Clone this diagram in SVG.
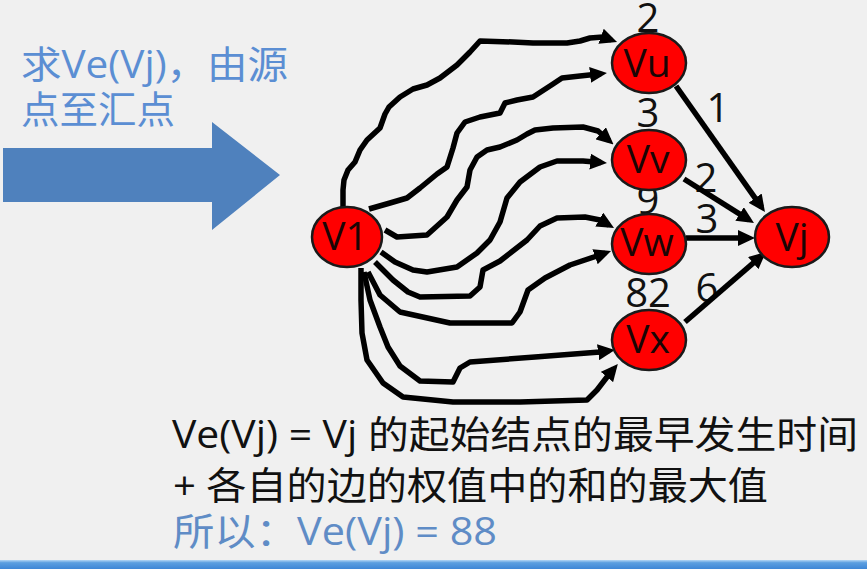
<svg xmlns="http://www.w3.org/2000/svg" width="867" height="569" viewBox="0 0 867 569">
  <style>
    .title { font-family: "Open Sans", "Noto Sans CJK SC", sans-serif; font-size: 38px; fill: #5b8ed3; }
    .body { font-family: "Open Sans", "Noto Sans CJK SC", sans-serif; font-size: 38px; fill: #111; }
    .result { font-family: "Open Sans", "Noto Sans CJK SC", sans-serif; font-size: 38px; fill: #5f8cc6; }
    .weight { font-family: "Open Sans", sans-serif; font-size: 40px; fill: #111; text-anchor: middle; }
    .node ellipse { fill: #ff0000; stroke: #1a1a1a; stroke-width: 2.5; }
    .node text { font-family: "Open Sans", sans-serif; font-size: 39px; fill: #1a0505; text-anchor: middle; }
    .edge { fill: none; stroke: #000; stroke-width: 5.5; stroke-linejoin: round; stroke-linecap: butt; marker-end: url(#head); }
  </style>
  <defs>
    <marker id="head" markerUnits="userSpaceOnUse" markerWidth="17" markerHeight="16" refX="11" refY="8" orient="auto">
      <path d="M0,0 L17,8 L0,16 z" fill="#000"/>
    </marker>
    <linearGradient id="bar" x1="0" y1="0" x2="0" y2="1">
      <stop offset="0" stop-color="#b4d6f4"/>
      <stop offset="0.3" stop-color="#5c9fe0"/>
      <stop offset="1" stop-color="#3e86d6"/>
    </linearGradient>
  </defs>

  <rect width="867" height="569" fill="#f0f0f0"/>

  <!-- heading and direction arrow -->
  <g id="heading">
    <text class="title" x="21" y="78" textLength="267" lengthAdjust="spacingAndGlyphs">求Ve(Vj)，由源</text>
    <text class="title" x="21" y="123" textLength="154" lengthAdjust="spacingAndGlyphs">点至汇点</text>
  </g>
  <polygon id="direction-arrow" points="3,148 212,148 212,122 280,175 212,230 212,202 3,202" fill="#4f81bd"/>

  <!-- edge weights -->
  <g id="weights">
    <text class="weight" x="648" y="32">2</text>
    <text class="weight" x="648" y="127">3</text>
    <text class="weight" x="648" y="214">9</text>
    <text class="weight" x="648" y="307">82</text>
    <text class="weight" x="718" y="122">1</text>
    <text class="weight" x="706" y="192">2</text>
    <text class="weight" x="707" y="233">3</text>
    <text class="weight" x="707" y="302">6</text>
  </g>

  <!-- connectors -->
  <g id="connectors">
    <path class="edge" d="M343,207 L343,190 L344,180 L348,170 L355,162 L360,150 L367,140 L380,128 L385,114 L389,107 L400,97 L413,89 L427,85 L440,78 L457,65 L470,52 L480,41 L513,42 L533,43 L567,43 L580,41 L590,38 L603,37 L611.4,40"/>
    <path class="edge" d="M369,209 L390,203 L407,198 L420,188 L437,174 L447,167 L453,148 L457,133 L465,122 L480,117 L500,113 L505,103 L517,100 L533,97 L553,84 L562,78 L580,76 L601,73.7"/>
    <path class="edge" d="M385,230 L397,237 L427,235 L447,217 L457,200 L467,187 L470,170 L477,157 L487,150 L500,147 L517,140 L527,134 L535,130 L553,128 L583,127 L598,131 L609,140.5"/>
    <path class="edge" d="M381,252 L395,262 L413,270 L427,272 L457,267 L477,253 L490,240 L500,222 L507,198 L520,182 L540,167 L557,161 L583,161 L601,162.5"/>
    <path class="edge" d="M375,262 L393,280 L408,292 L420,297 L470,296 L480,287 L483,270 L500,261 L527,240 L540,226 L557,218 L585,217 L600,220 L608.8,225"/>
    <path class="edge" d="M368,272 L380,295 L400,312 L450,323 L512,323 L520,312 L528,290 L545,278 L570,265 L597,256 L605.4,253"/>
    <path class="edge" d="M364,272 L370,300 L380,327 L388,347 L400,366 L420,381 L453,382 L460,368 L470,362 L535,357 L600,352 L609,350.8"/>
    <path class="edge" d="M361,268 L361,300 L362,333 L367,360 L383,383 L403,397 L453,402 L520,402 L587,400 L597,390 L607,377 L614,368.6"/>
    <path class="edge" d="M676,86 L761.5,207.1"/>
    <path class="edge" d="M684,179 L748.9,219.8"/>
    <path class="edge" d="M686,238 L749,238"/>
    <path class="edge" d="M685,322 L761.5,255.9"/>
  </g>

  <!-- nodes -->
  <g id="V1" class="node">
    <ellipse cx="347" cy="237" rx="35" ry="30"/>
    <text x="345" y="250">V1</text>
  </g>
  <g id="Vu" class="node">
    <ellipse cx="649" cy="63" rx="37" ry="30"/>
    <text x="647" y="77">Vu</text>
  </g>
  <g id="Vv" class="node">
    <ellipse cx="649" cy="160" rx="37" ry="30"/>
    <text x="648" y="173">Vv</text>
  </g>
  <g id="Vw" class="node">
    <ellipse cx="649" cy="244" rx="37" ry="30"/>
    <text x="647" y="256">Vw</text>
  </g>
  <g id="Vx" class="node">
    <ellipse cx="649" cy="340" rx="37" ry="30"/>
    <text x="648" y="353">Vx</text>
  </g>
  <g id="Vj" class="node">
    <ellipse cx="792" cy="237" rx="37" ry="30"/>
    <text x="792" y="251">Vj</text>
  </g>

  <!-- explanation -->
  <g id="explanation">
    <text class="body" x="172" y="448" textLength="686" lengthAdjust="spacingAndGlyphs">Ve(Vj) = Vj 的起始结点的最早发生时间</text>
    <text class="body" x="173" y="499" textLength="595" lengthAdjust="spacingAndGlyphs">+ 各自的边的权值中的和的最大值</text>
    <text class="result" x="173" y="545" textLength="324" lengthAdjust="spacingAndGlyphs">所以：Ve(Vj) = 88</text>
  </g>

  <rect id="footer-bar" x="0" y="560" width="867" height="9" fill="url(#bar)"/>
</svg>
